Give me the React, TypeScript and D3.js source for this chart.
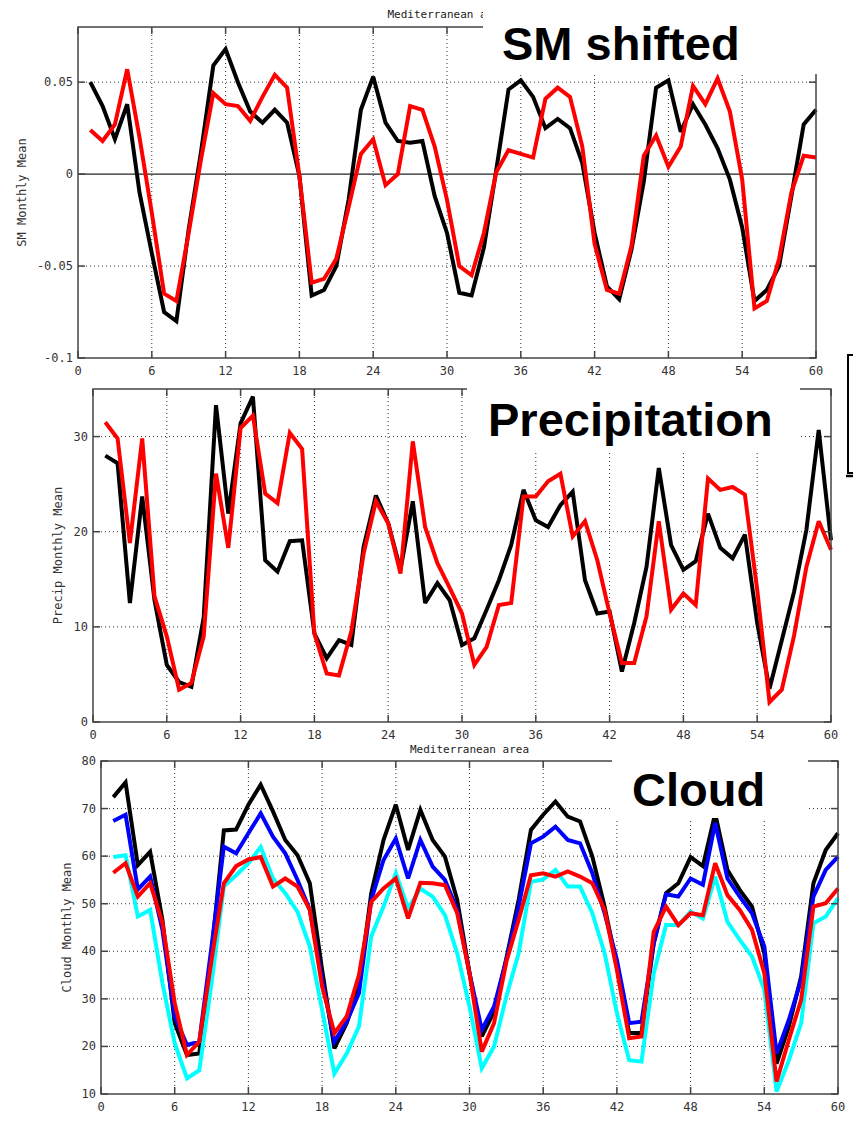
import React, { useEffect, useRef } from 'react';
import * as d3 from 'd3';

// monthly means, months 1..60
const smBlack = [0.05, 0.037, 0.019, 0.038, -0.01, -0.043, -0.075, -0.08, -0.03, 0.012,
    0.059, 0.068, 0.05, 0.034, 0.028, 0.035, 0.028, -0.001, -0.066, -0.063,
    -0.05, -0.014, 0.035, 0.053, 0.028, 0.018, 0.017, 0.018, -0.012, -0.032,
    -0.0645, -0.066, -0.04, 0.002, 0.046, 0.051, 0.042, 0.025, 0.03, 0.025,
    0.006, -0.032, -0.061, -0.068, -0.041, -0.004, 0.047, 0.051, 0.023, 0.038,
    0.027, 0.014, -0.003, -0.029, -0.069, -0.063, -0.05, -0.012, 0.027, 0.035];
const smRed = [0.024, 0.018, 0.027, 0.057, 0.02, -0.021, -0.065, -0.069, -0.032, 0.008,
    0.044, 0.038, 0.037, 0.029, 0.042, 0.054, 0.047, -0.001, -0.059, -0.057,
    -0.046, -0.018, 0.011, 0.019, -0.006, 0.0, 0.037, 0.035, 0.015, -0.014,
    -0.05, -0.055, -0.032, 0.001, 0.013, 0.011, 0.009, 0.041, 0.047, 0.042,
    0.015, -0.038, -0.063, -0.065, -0.039, 0.01, 0.021, 0.004, 0.015, 0.048,
    0.038, 0.052, 0.034, -0.003, -0.073, -0.069, -0.046, -0.01, 0.01, 0.009];

const precipBlack = [28.0, 27.2, 12.5, 23.7, 12.8, 6.0, 4.2, 3.7, 11.0, 33.3,
    21.9, 31.4, 34.2, 17.0, 15.8, 19.0, 19.1, 9.3, 6.7, 8.6,
    8.1, 18.4, 23.8, 20.9, 16.0, 23.2, 12.5, 14.6, 12.8, 8.1,
    8.8, 11.8, 14.9, 18.6, 24.4, 21.2, 20.5, 22.8, 24.2, 14.9,
    11.4, 11.6, 5.3, 10.4, 16.3, 26.7, 18.6, 16.0, 16.9, 21.9,
    18.3, 17.2, 19.7, 10.4, 3.5, 8.6, 13.7, 20.2, 30.7, 19.1];
const precipRed = [31.5, 29.8, 18.8, 29.8, 13.2, 9.0, 3.4, 4.1, 9.0, 26.1,
    18.3, 30.9, 32.2, 24.0, 23.0, 30.4, 28.7, 9.3, 5.1, 4.9,
    9.5, 17.7, 23.2, 20.9, 15.6, 29.5, 20.5, 16.7, 14.1, 11.4,
    6.0, 7.9, 12.3, 12.5, 23.7, 23.7, 25.3, 26.1, 19.5, 21.1,
    17.0, 11.4, 6.2, 6.2, 11.1, 21.1, 11.8, 13.5, 12.3, 25.6,
    24.4, 24.7, 23.9, 13.9, 2.1, 3.4, 9.1, 16.3, 21.1, 18.1];

const cloudBlack = [72.4, 75.5, 58.1, 60.9, 46.6, 24.9, 18.2, 18.5, 39.6, 65.4,
    65.6, 70.8, 75.0, 69.4, 63.4, 60.2, 54.3, 36.1, 19.6, 24.9,
    32.6, 52.2, 63.4, 70.8, 61.3, 69.7, 63.4, 59.9, 50.8, 35.4,
    22.1, 27.3, 38.5, 50.8, 65.5, 68.7, 71.5, 68.3, 67.3, 59.9,
    49.4, 36.8, 22.8, 22.8, 41.7, 52.2, 54.3, 59.8, 57.9, 69.0,
    57.1, 52.9, 49.4, 39.6, 16.4, 24.2, 34.7, 54.3, 61.3, 64.8];
const cloudBlue = [67.4, 68.7, 53.0, 55.7, 44.5, 26.3, 20.3, 21.0, 41.0, 62.0,
    60.6, 64.8, 69.0, 64.1, 60.6, 55.0, 48.7, 34.0, 21.0, 25.2,
    31.2, 50.8, 59.2, 63.7, 55.3, 63.4, 57.8, 55.0, 48.7, 35.4,
    23.5, 28.4, 38.2, 49.4, 62.7, 64.1, 66.2, 63.4, 62.7, 56.4,
    48.0, 38.2, 24.9, 25.2, 41.7, 52.0, 51.5, 55.3, 54.0, 67.0,
    55.3, 51.5, 48.0, 41.0, 18.5, 25.6, 34.0, 51.5, 57.1, 59.9];
const cloudCyan = [59.8, 60.2, 47.3, 48.7, 33.3, 20.7, 13.3, 15.0, 33.3, 53.6,
    56.0, 58.5, 61.9, 55.3, 52.2, 48.3, 41.0, 27.7, 14.3, 18.5,
    24.2, 43.1, 49.4, 56.4, 49.0, 53.2, 51.5, 47.6, 39.6, 28.4,
    15.4, 20.0, 30.5, 39.6, 54.6, 55.1, 57.1, 53.6, 53.6, 48.0,
    39.6, 27.0, 17.1, 16.8, 35.4, 45.5, 45.5, 48.3, 46.9, 55.7,
    46.2, 42.4, 38.9, 31.9, 10.5, 17.1, 24.9, 45.9, 47.3, 51.1];
const cloudRed = [56.5, 58.5, 51.5, 54.3, 46.0, 29.1, 18.2, 21.0, 38.2, 54.3,
    57.9, 59.3, 59.8, 53.6, 55.3, 53.6, 48.7, 32.6, 22.8, 26.3,
    35.0, 50.4, 53.2, 55.3, 46.9, 54.4, 54.3, 53.9, 48.0, 35.4,
    18.9, 24.9, 37.8, 46.6, 56.0, 56.4, 55.7, 56.8, 55.7, 54.3,
    48.7, 36.1, 21.7, 22.1, 44.1, 49.4, 45.5, 48.0, 47.6, 58.5,
    51.8, 48.7, 44.5, 35.4, 12.6, 21.4, 29.8, 49.4, 50.1, 53.2];

const xTicks = [0, 6, 12, 18, 24, 30, 36, 42, 48, 54, 60];
const smTicks = [-0.1, -0.05, 0, 0.05];
const smTickLabels = ['-0.1', '-0.05', '0', '0.05'];
const precipTicks = [0, 10, 20, 30];
const cloudTicks = [10, 20, 30, 40, 50, 60, 70, 80];

const areaTitle = 'Mediterranean area';
const monoFont = '"DejaVu Sans Mono", monospace';
const bigFont = '"Liberation Sans", Arial, sans-serif';

const panels = [
    {
        left: 78, right: 816, top: 27, bottom: 358,
        yDomain: [-0.1, 0.08], yTicks: smTicks, yLabels: smTickLabels,
        yTitle: 'SM Monthly Mean', yTitleX: 22, zeroLine: true,
        title: true, titleY: 18,
        series: [{values: smBlack, color: '#000000'}, {values: smRed, color: '#ff0000'}],
        box: {x: 483, y: 0, w: 370, h: 74},
        label: {text: 'SM shifted', x: 502, y: 60}
    },
    {
        left: 93, right: 831, top: 389, bottom: 722,
        yDomain: [0, 35], yTicks: precipTicks, yLabels: precipTicks.map(String),
        yTitle: 'Precip Monthly Mean', yTitleX: 58, zeroLine: false,
        title: false, titleY: 0,
        series: [{values: precipBlack, color: '#000000'}, {values: precipRed, color: '#ff0000'}],
        box: {x: 467, y: 381, w: 333, h: 70},
        label: {text: 'Precipitation', x: 488, y: 436}
    },
    {
        left: 101, right: 838, top: 761, bottom: 1094,
        yDomain: [10, 80], yTicks: cloudTicks, yLabels: cloudTicks.map(String),
        yTitle: 'Cloud Monthly Mean', yTitleX: 67, zeroLine: false,
        title: true, titleY: 753,
        series: [
            {values: cloudBlack, color: '#000000'},
            {values: cloudBlue, color: '#0000ff'},
            {values: cloudCyan, color: '#00ffff'},
            {values: cloudRed, color: '#ff0000'}
        ],
        box: {x: 612, y: 755, w: 196, h: 63},
        label: {text: 'Cloud', x: 632, y: 806}
    }
];

function drawPanel(svg: any, p: any) {
    const xScale = d3.scaleLinear().domain([0, 60]).range([p.left, p.right]);
    const yScale = d3.scaleLinear().domain(p.yDomain).range([p.bottom, p.top]);
    const g = svg.append('g');
    const tickLen = 7;

    // dotted grid
    const innerX = xTicks.slice(1, -1);
    g.selectAll('.gx').data(innerX).enter().append('line')
        .attr('x1', (d: number) => xScale(d)).attr('x2', (d: number) => xScale(d))
        .attr('y1', p.top).attr('y2', p.bottom)
        .attr('stroke', '#333').attr('stroke-width', 1).attr('stroke-dasharray', '1,3');
    const innerY = p.yTicks.filter((d: number) => d > p.yDomain[0] && d < p.yDomain[1] && !(p.zeroLine && d === 0));
    g.selectAll('.gy').data(innerY).enter().append('line')
        .attr('x1', p.left).attr('x2', p.right)
        .attr('y1', (d: number) => yScale(d)).attr('y2', (d: number) => yScale(d))
        .attr('stroke', '#333').attr('stroke-width', 1).attr('stroke-dasharray', '1,3');

    if (p.zeroLine) {
        g.append('line')
            .attr('x1', p.left).attr('x2', p.right)
            .attr('y1', yScale(0)).attr('y2', yScale(0))
            .attr('stroke', '#222').attr('stroke-width', 1.2);
    }

    const line = d3.line<number>()
        .x((d, i) => xScale(i + 1))
        .y(d => yScale(d));

    p.series.forEach((s: any) => {
        g.append('path')
            .attr('d', line(s.values))
            .attr('fill', 'none')
            .attr('stroke', s.color)
            .attr('stroke-width', 4)
            .attr('stroke-linejoin', 'miter')
            .attr('stroke-miterlimit', 3);
    });

    // frame
    g.append('rect')
        .attr('x', p.left).attr('y', p.top)
        .attr('width', p.right - p.left).attr('height', p.bottom - p.top)
        .attr('fill', 'none').attr('stroke', '#444').attr('stroke-width', 1.5);

    // inward ticks
    xTicks.forEach(t => {
        const x = xScale(t);
        g.append('line').attr('x1', x).attr('x2', x).attr('y1', p.bottom).attr('y2', p.bottom - tickLen)
            .attr('stroke', '#444').attr('stroke-width', 1.5);
        g.append('line').attr('x1', x).attr('x2', x).attr('y1', p.top).attr('y2', p.top + tickLen)
            .attr('stroke', '#444').attr('stroke-width', 1.5);
    });
    p.yTicks.forEach((t: number) => {
        const y = yScale(t);
        g.append('line').attr('x1', p.left).attr('x2', p.left + tickLen).attr('y1', y).attr('y2', y)
            .attr('stroke', '#444').attr('stroke-width', 1.5);
        g.append('line').attr('x1', p.right).attr('x2', p.right - tickLen).attr('y1', y).attr('y2', y)
            .attr('stroke', '#444').attr('stroke-width', 1.5);
    });

    // tick labels
    g.selectAll('.xl').data(xTicks).enter().append('text')
        .attr('x', (d: number) => xScale(d)).attr('y', p.bottom + 17)
        .attr('text-anchor', 'middle')
        .style('font', `12px ${monoFont}`).attr('fill', '#333')
        .text((d: number) => String(d));
    g.selectAll('.yl').data(p.yTicks).enter().append('text')
        .attr('x', p.left - 5).attr('y', (d: number) => yScale(d) + 4)
        .attr('text-anchor', 'end')
        .style('font', `12px ${monoFont}`).attr('fill', '#333')
        .text((d: number, i: number) => p.yLabels[i]);

    g.append('text')
        .attr('transform', `translate(${p.yTitleX},${(p.top + p.bottom) / 2}) rotate(-90)`)
        .attr('text-anchor', 'middle').attr('dy', '0.35em')
        .style('font', `12px ${monoFont}`).attr('fill', '#333')
        .text(p.yTitle);

    if (p.title) {
        g.append('text')
            .attr('x', (p.left + p.right) / 2).attr('y', p.titleY)
            .attr('text-anchor', 'middle')
            .style('font', `11px ${monoFont}`).attr('fill', '#222')
            .text(areaTitle);
    }

    // pasted label boxes
    g.append('rect')
        .attr('x', p.box.x).attr('y', p.box.y)
        .attr('width', p.box.w).attr('height', p.box.h)
        .attr('fill', '#ffffff');
    g.append('text')
        .attr('x', p.label.x).attr('y', p.label.y)
        .style('font', `bold 47px ${bigFont}`).attr('fill', '#000')
        .text(p.label.text);
}

export default function App() {
    const ref = useRef<SVGSVGElement>(null);

    useEffect(() => {
        const svg = d3.select(ref.current);
        svg.selectAll('*').remove();
        svg.append('rect').attr('width', 853).attr('height', 1124).attr('fill', '#fff');
        panels.forEach(p => drawPanel(svg, p));

        // edge of a neighbouring picture at the right border
        svg.append('rect')
            .attr('x', 848).attr('y', 355).attr('width', 20).attr('height', 118)
            .attr('fill', 'none').attr('stroke', '#000').attr('stroke-width', 2);
        svg.append('line')
            .attr('x1', 846).attr('x2', 853).attr('y1', 476).attr('y2', 476)
            .attr('stroke', '#000').attr('stroke-width', 2.5);
    }, []);

    return (
        <svg ref={ref} width={853} height={1124}
             style={{position: 'absolute', left: 0, top: 0}}/>
    );
}
